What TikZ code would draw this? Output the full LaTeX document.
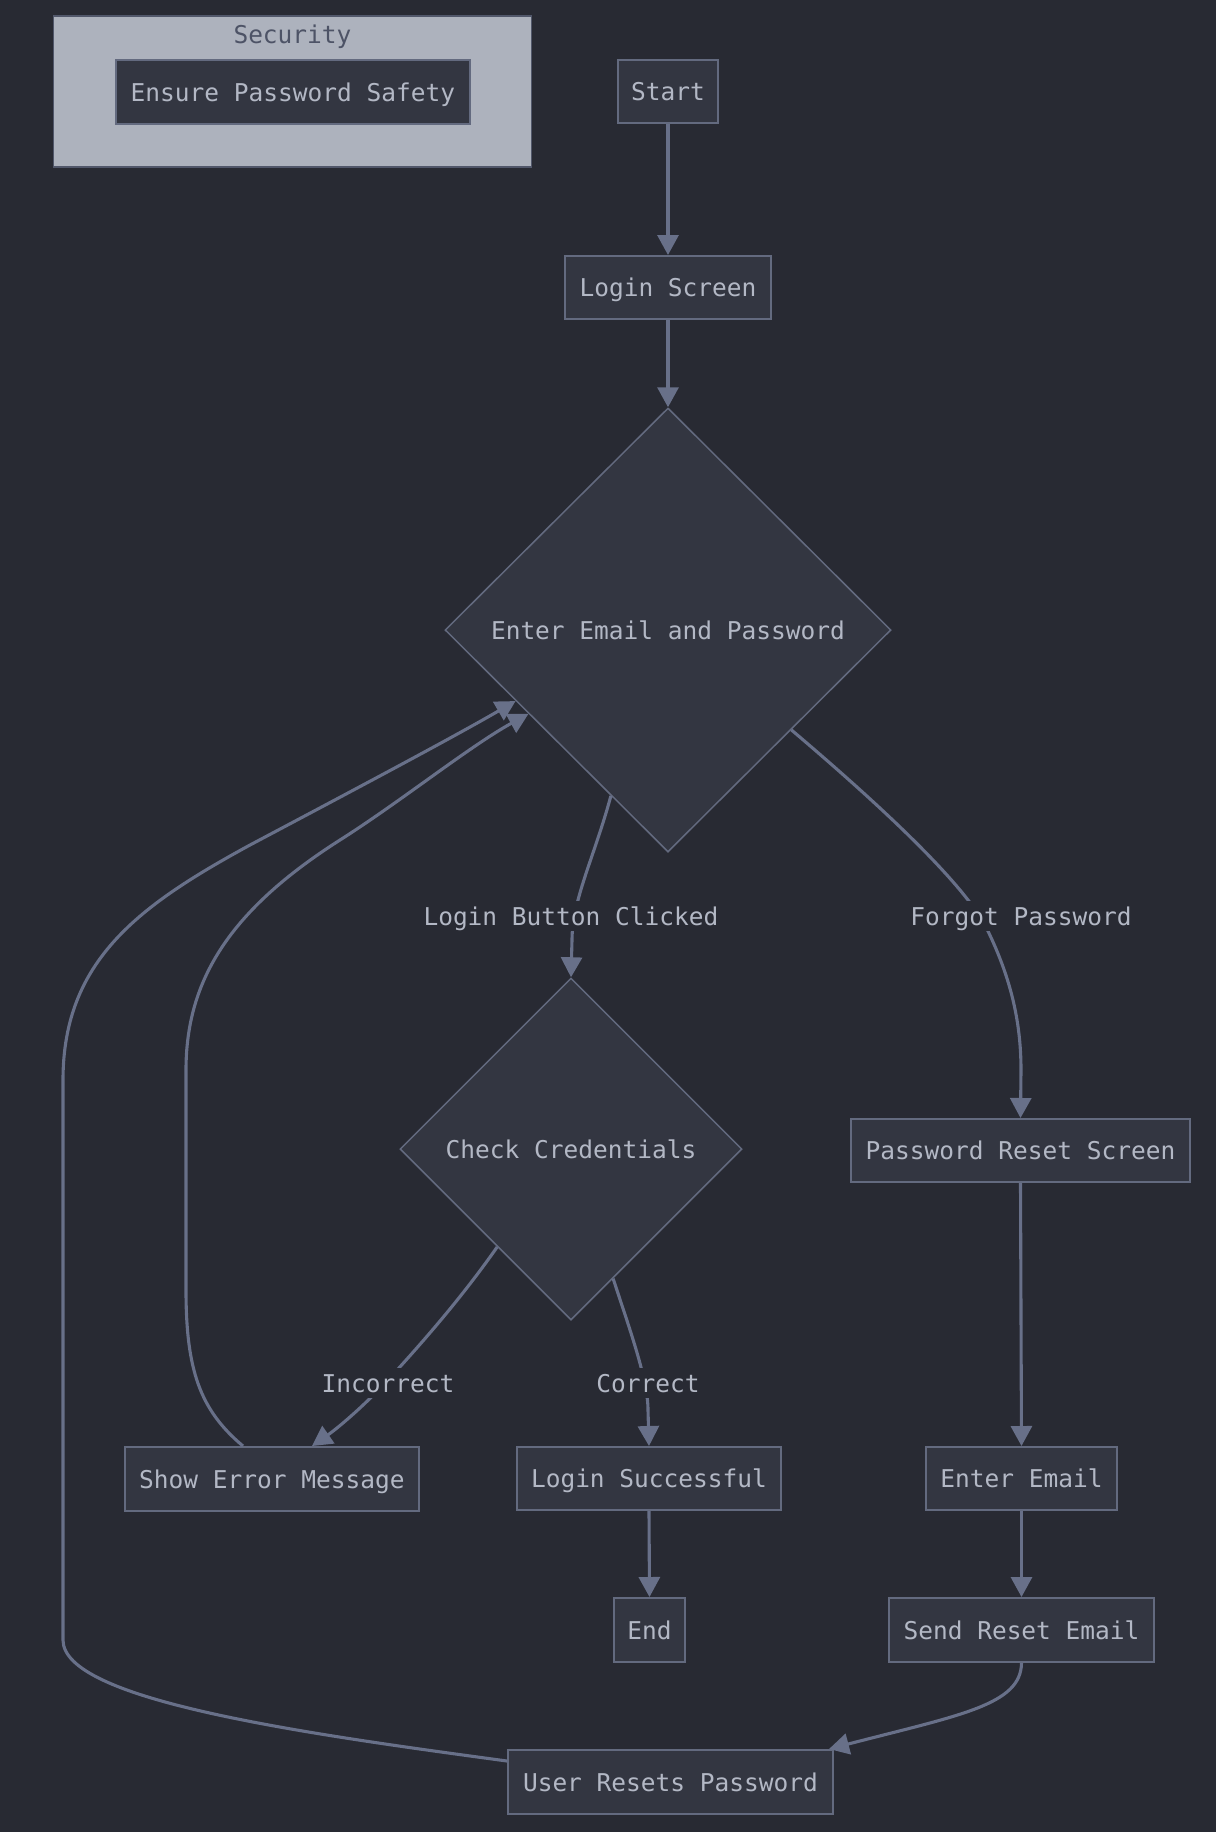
\documentclass[tikz,border=0pt]{standalone}
\usepackage{fontspec}
\setmainfont{DejaVu Sans Mono}
\usetikzlibrary{shapes.geometric,arrows.meta,calc}
\definecolor{bg}{HTML}{282A33}
\definecolor{nodefill}{HTML}{333641}
\definecolor{nodeline}{HTML}{636A7F}
\definecolor{edgecol}{HTML}{687089}
\definecolor{txt}{HTML}{B3B8C5}
\definecolor{clfill}{HTML}{ADB2BD}
\definecolor{clline}{HTML}{51576A}
\definecolor{cltxt}{HTML}{4D5366}
\begin{document}
\begin{tikzpicture}[x=1pt,y=-1pt,
  font=\fontsize{24.5}{29}\selectfont,
  rbox/.style={draw=nodeline, fill=nodefill, line width=2pt, text=txt, inner sep=0pt,
    text height=18pt, text depth=0pt, minimum height=63pt},
  dbox/.style={shape=diamond, draw=nodeline, fill=nodefill, line width=1.5pt, text=txt,
    inner sep=0pt, aspect=1, text height=18pt, text depth=0pt},
  conn/.style={draw=edgecol, line width=3.1pt, -{Triangle[length=20pt,width=21pt]}},
  elabel/.style={fill=bg, text=txt, inner xsep=3pt, inner ysep=6pt, text height=18pt, text depth=0pt}]
\fill[bg] (0,0) rectangle (1216,1832);
\useasboundingbox (0,0) rectangle (1216,1832);

% cluster
\node[draw=clline, fill=clfill, line width=1.8pt, minimum width=478pt, minimum height=151pt, inner sep=0pt] (cluster) at (292.5,91.5) {};
\node[text=cltxt, inner sep=0pt, text height=18pt, text depth=0pt] (seclabel) at (292.5,34) {Security};
\node[rbox, minimum width=354pt, minimum height=64pt] (safety) at (293,92) {Ensure Password Safety};

% nodes
\node[rbox, minimum width=100pt] (start) at (668,91.5) {Start};
\node[rbox, minimum width=206pt] (login) at (668,287.5) {Login Screen};
\node[dbox, minimum width=446pt, minimum height=444pt] (enter) at (668,630) {Enter Email and Password};
\node[dbox, minimum width=342pt, minimum height=342pt] (check) at (571,1149) {Check Credentials};
\node[rbox, minimum width=339pt] (reset) at (1020.5,1150.5) {Password Reset Screen};
\node[rbox, minimum width=294pt, minimum height=64pt] (error) at (272,1479) {Show Error Message};
\node[rbox, minimum width=264pt] (success) at (649,1478.5) {Login Successful};
\node[rbox, minimum width=191pt] (email) at (1021.5,1478.5) {Enter Email};
\node[rbox, minimum width=71pt, minimum height=64pt] (endn) at (649.5,1630) {End};
\node[rbox, minimum width=265pt, minimum height=64pt] (send) at (1021.5,1630) {Send Reset Email};
\node[rbox, minimum width=325pt, minimum height=64pt] (user) at (670.5,1782) {User Resets Password};

% straight connectors
\draw[conn] (start.south) -- (login.north);
\draw[conn] (login.south) -- (enter.north);
\draw[conn] (success.south) -- (endn.north);
\draw[conn] (reset.south) -- (email.north);
\draw[conn] (email.south) -- (send.north);

% curved connectors
\draw[conn] (enter.251.9) .. controls (595,855) and (572,900) .. (572,940) -- (check.north);
\draw[conn] (enter.321.1) .. controls (880,805) and (960,880) .. (985,925)
  .. controls (1010,975) and (1021,1020) .. (1021,1070) -- (reset.north);
\draw[conn] (check.233.5) .. controls (460,1300) and (420,1345) .. (388,1380)
  .. controls (360,1410) and (335,1430) .. ([xshift=40pt]error.north);
\draw[conn] (check.288.6) .. controls (630,1330) and (648,1380) .. (648,1410) -- (success.north);
\draw[conn] (send.south) .. controls (1021,1705) and (960,1715) .. ([xshift=-5pt]user.north east);
\draw[conn] ([yshift=21pt]user.west) .. controls (300,1733) and (63,1700) .. (63,1640)
  -- (63,1080) .. controls (63,960) and (140,905) .. (250,845)
  .. controls (350,792) and (450,739) .. (enter.205.8);
\draw[conn] ([xshift=-29pt]error.north) .. controls (200,1410) and (186,1370) .. (186,1290)
  -- (186,1070) .. controls (186,980) and (230,910) .. (340,840)
  .. controls (400,802) and (470,746) .. (enter.211.3);

% edge labels
\node[elabel] (lbl1) at (571,916) {Login Button Clicked};
\node[elabel] (lbl2) at (1021,916) {Forgot Password};
\node[elabel] (lbl3) at (388,1383) {Incorrect};
\node[elabel] (lbl4) at (648,1383) {Correct};
\end{tikzpicture}
\end{document}
